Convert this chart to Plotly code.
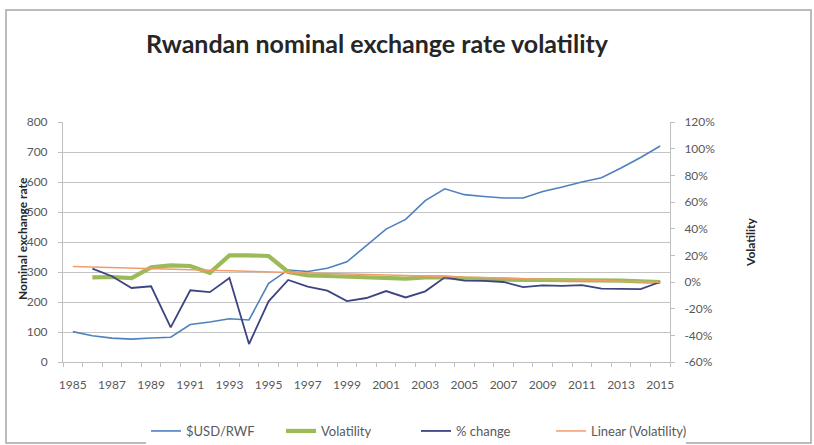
import numpy as np
import plotly.graph_objects as go

# Annual series, 1985-2015
years = list(range(1985, 2016))

usd_rwf = [101.3, 87.6, 79.7, 76.4, 80.0, 82.6, 125.1, 133.4, 144.3, 140.0,
           262.2, 306.8, 301.5, 312.3, 333.9, 389.7, 443.0, 475.4, 537.7, 577.4,
           557.8, 551.7, 546.9, 546.9, 568.3, 583.1, 600.3, 614.3, 646.6, 681.9,
           720.0]

# Volatility and % change, in percent (secondary axis)
volatility = [None, 3.5, 3.75, 3.0, 11.0, 12.5, 12.0, 6.8, 20.0, 20.0,
              19.5, 7.5, 5.0, 4.5, 4.0, 3.5, 3.0, 2.5, 3.5, 3.5,
              2.5, 2.0, 2.0, 1.5, 1.5, 1.5, 1.2, 1.0, 1.0, 0.5,
              0.0]

pct_change = [None, 10.0, 4.3, -4.5, -3.2, -34.0, -6.2, -7.6, 3.0, -46.5,
              -14.5, 1.5, -3.5, -6.5, -14.3, -12.0, -6.8, -11.6, -7.0, 3.5,
              1.1, 0.9, 0.0, -3.8, -2.5, -2.9, -2.3, -5.0, -5.2, -5.3,
              0.0]

left_ticks = list(range(0, 801, 100))
right_ticks = list(range(-60, 121, 20))
x_labels = years[::2]

# Least-squares linear trend of the volatility series
vx = np.array([y for y, v in zip(years, volatility) if v is not None], dtype=float)
vy = np.array([v for v in volatility if v is not None], dtype=float)
slope, intercept = np.polyfit(vx, vy, 1)
trend = [slope * y + intercept for y in years]

FONT = "Lato, 'Open Sans', sans-serif"
GREY = "#595959"

fig = go.Figure()
fig.add_trace(go.Scatter(x=years, y=usd_rwf, name="$USD/RWF", mode="lines",
                         line=dict(color="#4F81BD", width=1.6)))
fig.add_trace(go.Scatter(x=years, y=volatility, name="Volatility", mode="lines",
                         yaxis="y2", line=dict(color="#9BBB59", width=4.2)))
fig.add_trace(go.Scatter(x=years, y=pct_change, name="% change", mode="lines",
                         yaxis="y2", line=dict(color="#3D4482", width=1.8)))
fig.add_trace(go.Scatter(x=years, y=trend, name="Linear (Volatility)", mode="lines",
                         yaxis="y2", line=dict(color="#F29B6B", width=1.5)))

L, R, T, B = 63, 670, 122, 362
W, H = 814, 445

def px_x(px):
    return (px - L) / (R - L)

def px_y(py):
    return (B - py) / (B - T)

fig.update_layout(
    width=W, height=H,
    margin=dict(l=L, r=W - R, t=T, b=H - B, pad=0, autoexpand=False),
    paper_bgcolor="white", plot_bgcolor="white",
    font=dict(family=FONT, size=12, color=GREY),
    showlegend=True,
    legend=dict(orientation="h", x=px_x(416), xanchor="center",
                y=px_y(431), yanchor="middle",
                font=dict(family=FONT, size=13, color=GREY),
                itemwidth=30, entrywidth=90, entrywidthmode="pixels"),
    xaxis=dict(range=[1984.5, 2015.5], tickmode="array", tickvals=x_labels,
               ticktext=[str(y) for y in x_labels], ticks="",
               showgrid=False, zeroline=False,
               showline=True, linecolor="#bfbfbf", linewidth=1,
               ticklabelstandoff=12,
               tickfont=dict(size=12, color=GREY),
               minor=dict(tickmode="array",
                          tickvals=[1984.5 + i for i in range(32)],
                          ticks="outside", ticklen=4, tickcolor="#bfbfbf",
                          showgrid=False)),
    yaxis=dict(range=[0, 800], tickmode="array", tickvals=left_ticks,
               ticks="outside", ticklen=4, tickcolor="#bfbfbf",
               showgrid=True, gridcolor="#c4c4c4", gridwidth=1,
               zeroline=False, showline=True, linecolor="#bfbfbf",
               ticklabelstandoff=8,
               tickfont=dict(size=12, color=GREY)),
    yaxis2=dict(range=[-60, 120], overlaying="y", side="right",
                tickmode="array", tickvals=right_ticks,
                ticktext=[f"{v}%" for v in right_ticks],
                ticks="outside", ticklen=4, tickcolor="#bfbfbf",
                showgrid=False, zeroline=False, showline=True,
                linecolor="#bfbfbf", ticklabelstandoff=7,
                tickfont=dict(size=12, color=GREY)),
)

# Chart title and axis titles
fig.add_annotation(text="<b>Rwandan nominal exchange rate volatility</b>",
                   xref="paper", yref="paper", x=px_x(377), y=px_y(43),
                   showarrow=False, xanchor="center", yanchor="middle",
                   font=dict(family=FONT, size=25, color="#262626"))
fig.add_annotation(text="<b>Nominal exchange rate</b>",
                   xref="paper", yref="paper", x=px_x(22), y=px_y(239),
                   showarrow=False, textangle=-90, xanchor="center", yanchor="middle",
                   font=dict(family=FONT, size=12, color="#262626"))
fig.add_annotation(text="<b>Volatility</b>",
                   xref="paper", yref="paper", x=px_x(750), y=px_y(243),
                   showarrow=False, textangle=-90, xanchor="center", yanchor="middle",
                   font=dict(family=FONT, size=12, color="#262626"))

# Chart-area frame
fig.add_shape(type="rect", xref="paper", yref="paper",
              x0=px_x(6), x1=px_x(811), y0=px_y(443), y1=px_y(10),
              line=dict(color="#a6a6a6", width=1.5), layer="below")

fig.write_html("out.html")
